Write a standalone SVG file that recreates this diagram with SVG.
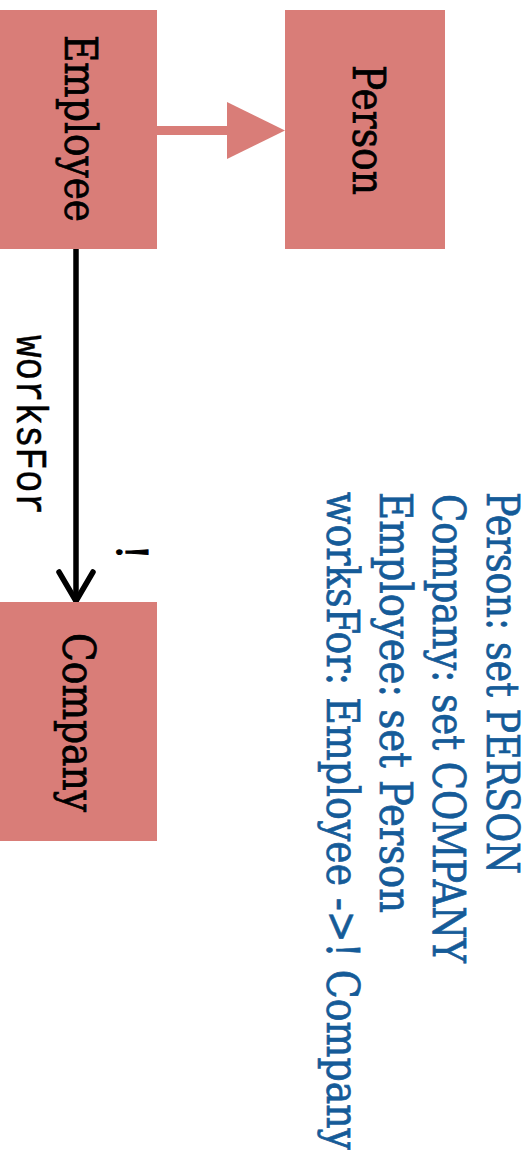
<svg xmlns="http://www.w3.org/2000/svg" width="531" height="1160" viewBox="0 0 531 1160">
  <style>
    .box { fill: #d97d78; }
    .serif { font-family: "DejaVu Serif Condensed", "DejaVu Serif", "Noto Serif", "Liberation Serif", serif; }
    .label { font-size: 45px; fill: #000; stroke: #000; stroke-width: 0.7; text-anchor: middle; }
    .edge-label { font-family: "Liberation Mono", "Courier New", monospace; font-size: 44px; fill: #000; stroke: #000; stroke-width: 0.5; }
    .mult { font-size: 42px; fill: #000; stroke: #000; stroke-width: 1; text-anchor: middle; }
    .decl { font-size: 45px; fill: #155b98; stroke: #155b98; stroke-width: 0.7; }
    .assoc { fill: none; stroke: #000; stroke-width: 5.5; stroke-linecap: round; stroke-linejoin: round; }
    .isa { fill: #d97d78; stroke: none; }
  </style>
  <rect width="531" height="1160" fill="#ffffff"/>

  <!-- connectors -->
  <g id="connectors">
    <!-- Employee is-a Person -->
    <g id="edge-employee-person">
      <rect class="isa" x="157" y="126" width="72" height="9"/>
      <polygon class="isa" points="227,102 285,130.5 227,159"/>
    </g>
    <!-- worksFor: Employee ->! Company -->
    <g id="edge-worksFor">
      <line class="assoc" x1="76" y1="249" x2="76" y2="600"/>
      <polyline class="assoc" points="59,572 76,601 93,572"/>
      <text class="edge-label" transform="translate(17,335) rotate(90)" textLength="180" lengthAdjust="spacingAndGlyphs">worksFor</text>
      <text class="serif mult" transform="translate(117,552) rotate(90)">!</text>
    </g>
  </g>

  <!-- nodes -->
  <g id="node-employee">
    <rect class="box" x="-3" y="10" width="160" height="239"/>
    <text class="serif label" transform="translate(65,128.5) rotate(90)" textLength="187" lengthAdjust="spacingAndGlyphs">Employee</text>
  </g>
  <g id="node-person">
    <rect class="box" x="285" y="10" width="160" height="239"/>
    <text class="serif label" transform="translate(353,130) rotate(90)" textLength="130" lengthAdjust="spacingAndGlyphs">Person</text>
  </g>
  <g id="node-company">
    <rect class="box" x="-3" y="602" width="160" height="239"/>
    <text class="serif label" transform="translate(63,722.5) rotate(90)" textLength="179" lengthAdjust="spacingAndGlyphs">Company</text>
  </g>

  <!-- declarations -->
  <g id="declarations">
    <text class="serif decl" transform="translate(487,492) rotate(90)" textLength="382" lengthAdjust="spacingAndGlyphs">Person: set PERSON</text>
    <text class="serif decl" transform="translate(433,494) rotate(90)" textLength="469" lengthAdjust="spacingAndGlyphs">Company: set COMPANY</text>
    <text class="serif decl" transform="translate(380,492) rotate(90)" textLength="421" lengthAdjust="spacingAndGlyphs">Employee: set Person</text>
    <text class="serif decl" transform="translate(327,492) rotate(90)" textLength="658" lengthAdjust="spacingAndGlyphs">worksFor: Employee -&gt;! Company</text>
  </g>
</svg>
